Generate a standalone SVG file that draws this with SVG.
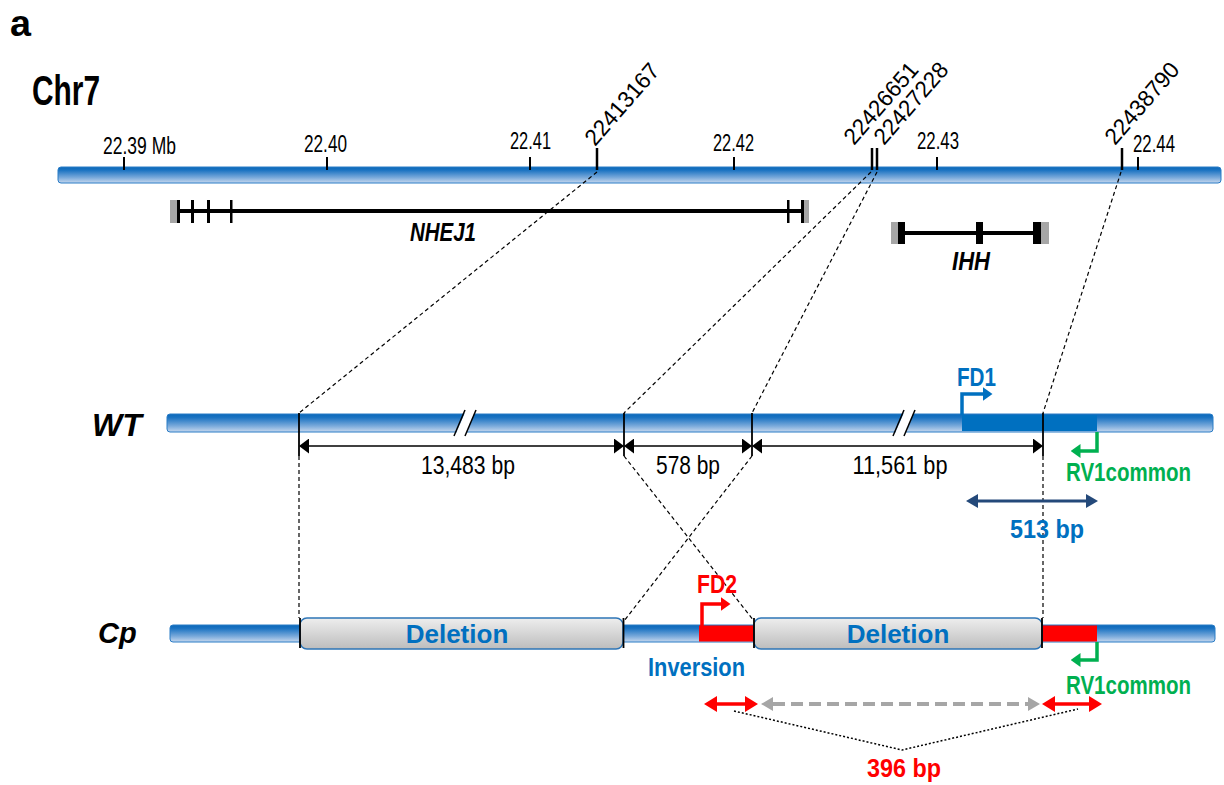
<svg xmlns="http://www.w3.org/2000/svg" width="1224" height="785" viewBox="0 0 1224 785">
<defs>
<linearGradient id="barG" x1="0" y1="0" x2="0" y2="1">
<stop offset="0" stop-color="#0a68ba"/>
<stop offset="0.2" stop-color="#1b73c2"/>
<stop offset="0.65" stop-color="#77a8da"/>
<stop offset="1" stop-color="#c6d8ee"/>
</linearGradient>
<linearGradient id="delG" x1="0" y1="0" x2="0" y2="1">
<stop offset="0" stop-color="#eeeeee"/>
<stop offset="1" stop-color="#bdbdbd"/>
</linearGradient>
<marker id="mk" viewBox="0 0 10 15" refX="0" refY="7.5" markerWidth="10" markerHeight="15" markerUnits="userSpaceOnUse" orient="auto-start-reverse"><path d="M0,0 L10,7.5 L0,15 z" fill="#000"/></marker>
<marker id="mn" viewBox="0 0 12 14" refX="0" refY="7" markerWidth="12" markerHeight="14" markerUnits="userSpaceOnUse" orient="auto-start-reverse"><path d="M0,0 L12,7 L0,14 z" fill="#24497a"/></marker>
<marker id="mr" viewBox="0 0 13 16" refX="0" refY="8" markerWidth="13" markerHeight="16" markerUnits="userSpaceOnUse" orient="auto-start-reverse"><path d="M0,0 L13,8 L0,16 z" fill="#ff0000"/></marker>
<marker id="mg" viewBox="0 0 12 14" refX="0" refY="7" markerWidth="12" markerHeight="14" markerUnits="userSpaceOnUse" orient="auto-start-reverse"><path d="M0,0 L12,7 L0,14 z" fill="#a6a6a6"/></marker>
<marker id="mb" viewBox="0 0 10 14" refX="0.5" refY="7" markerWidth="10" markerHeight="14" markerUnits="userSpaceOnUse" orient="auto"><path d="M0,0 L10,7 L0,14 z" fill="#0070c0"/></marker>
<marker id="mgr" viewBox="0 0 10 14" refX="0.5" refY="7" markerWidth="10" markerHeight="14" markerUnits="userSpaceOnUse" orient="auto"><path d="M0,0 L10,7 L0,14 z" fill="#00b050"/></marker>
<marker id="mrd" viewBox="0 0 10 14" refX="0.5" refY="7" markerWidth="10" markerHeight="14" markerUnits="userSpaceOnUse" orient="auto"><path d="M0,0 L10,7 L0,14 z" fill="#ff0000"/></marker>
</defs>
<style>
text{font-family:"Liberation Sans",Arial,sans-serif;}
.n{font-size:23px;fill:#000;}
.d{font-size:26px;fill:#000;}
.bi{font-weight:bold;font-style:italic;fill:#000;}
.bl{font-weight:bold;font-size:26px;fill:#0070c0;}
.gr{font-weight:bold;font-size:26px;fill:#00b050;}
.rd{font-weight:bold;font-size:26px;fill:#ff0000;}
.del{font-weight:bold;font-size:26px;fill:#0070c0;text-anchor:middle;}
.bar{fill:url(#barG);stroke:#2a7cc6;stroke-width:1;}
.dbox{fill:url(#delG);stroke:#2e75b6;stroke-width:1.5;}
.tk{stroke:#000;stroke-width:2;}
.tk2{stroke:#000;stroke-width:2.5;}
.dash{fill:none;stroke:#000;stroke-width:1.2;stroke-dasharray:4 3;}
.vl{stroke:#000;stroke-width:1.8;}
.dim{stroke:#000;stroke-width:1.5;marker-start:url(#mk);marker-end:url(#mk);}
.ex{fill:#000;}
.gx{fill:#a6a6a6;}
</style>

<text x="10" y="36" font-weight="bold" font-size="37" textLength="21" lengthAdjust="spacingAndGlyphs">a</text>

<g id="chr7">
<text x="32" y="105" font-weight="bold" font-size="43" textLength="68" lengthAdjust="spacingAndGlyphs">Chr7</text>
<rect class="bar" x="58" y="167" width="1163" height="16" rx="3"/>
<line class="tk" x1="124" y1="157" x2="124" y2="170"/>
<line class="tk" x1="327" y1="157" x2="327" y2="170"/>
<line class="tk" x1="530" y1="157" x2="530" y2="170"/>
<line class="tk" x1="734" y1="157" x2="734" y2="170"/>
<line class="tk" x1="937" y1="157" x2="937" y2="170"/>
<line class="tk" x1="1138" y1="157" x2="1138" y2="170"/>
<line class="tk2" x1="597" y1="148" x2="597" y2="170"/>
<line class="tk2" x1="872" y1="148" x2="872" y2="170"/>
<line class="tk2" x1="877" y1="148" x2="877" y2="170"/>
<line class="tk2" x1="1122" y1="148" x2="1122" y2="170"/>
<text class="n" x="103" y="154" textLength="73" lengthAdjust="spacingAndGlyphs">22.39 Mb</text>
<text class="n" x="304" y="152" textLength="43" lengthAdjust="spacingAndGlyphs">22.40</text>
<text class="n" x="510" y="149" textLength="41" lengthAdjust="spacingAndGlyphs">22.41</text>
<text class="n" x="713" y="151" textLength="41" lengthAdjust="spacingAndGlyphs">22.42</text>
<text class="n" x="917" y="149" textLength="42" lengthAdjust="spacingAndGlyphs">22.43</text>
<text class="n" x="1133" y="152" textLength="42" lengthAdjust="spacingAndGlyphs">22.44</text>
<text class="n" transform="translate(595,147) rotate(-49)" textLength="100" lengthAdjust="spacingAndGlyphs">22413167</text>
<text class="n" transform="translate(854,146) rotate(-49)" textLength="100" lengthAdjust="spacingAndGlyphs">22426651</text>
<text class="n" transform="translate(884,146) rotate(-49)" textLength="100" lengthAdjust="spacingAndGlyphs">22427228</text>
<text class="n" transform="translate(1115,146) rotate(-49)" textLength="100" lengthAdjust="spacingAndGlyphs">22438790</text>
</g>

<g id="nhej1">
<rect class="gx" x="170" y="200" width="7" height="23"/>
<rect class="gx" x="803" y="200" width="6" height="23"/>
<rect class="ex" x="177" y="209" width="627" height="4"/>
<rect class="ex" x="177" y="200" width="3" height="23"/>
<rect class="ex" x="191" y="200" width="3" height="23"/>
<rect class="ex" x="207" y="200" width="3" height="23"/>
<rect class="ex" x="230" y="200" width="2.5" height="23"/>
<rect class="ex" x="787" y="200" width="2.5" height="23"/>
<rect class="ex" x="801" y="200" width="3" height="23"/>
<text class="bi" x="443" y="241" font-size="25" text-anchor="middle" textLength="66" lengthAdjust="spacingAndGlyphs">NHEJ1</text>
</g>

<g id="ihh">
<rect class="gx" x="891" y="222" width="7" height="22"/>
<rect class="gx" x="1041" y="222" width="8" height="22"/>
<rect class="ex" x="898" y="231" width="143" height="4"/>
<rect class="ex" x="898" y="222" width="7" height="22"/>
<rect class="ex" x="976" y="222" width="7" height="22"/>
<rect class="ex" x="1033" y="222" width="8" height="22"/>
<text class="bi" x="971" y="270" font-size="26" text-anchor="middle" textLength="38" lengthAdjust="spacingAndGlyphs">IHH</text>
</g>

<g id="wt">
<text class="bi" x="92" y="436" font-size="32">WT</text>
<rect class="bar" x="167" y="414" width="1046" height="18" rx="3"/>
<rect x="962" y="415" width="135" height="16" fill="#0070c0"/>
<polygon points="455,436 466,410 476,410 465,436" fill="#ffffff"/>
<line x1="454" y1="436" x2="465" y2="410" stroke="#000" stroke-width="1.5"/>
<line x1="465" y1="436" x2="476" y2="410" stroke="#000" stroke-width="1.5"/>
<polygon points="894,436 905,410 915,410 904,436" fill="#ffffff"/>
<line x1="893" y1="436" x2="904" y2="410" stroke="#000" stroke-width="1.5"/>
<line x1="904" y1="436" x2="915" y2="410" stroke="#000" stroke-width="1.5"/>
<line class="vl" x1="299" y1="413" x2="299" y2="456"/>
<line class="vl" x1="624" y1="413" x2="624" y2="456"/>
<line class="vl" x1="752" y1="413" x2="752" y2="456"/>
<line class="vl" x1="1043" y1="413" x2="1043" y2="456"/>
</g>

<g id="cp">
<text class="bi" x="98" y="643" font-size="29">Cp</text>
<rect class="bar" x="170" y="625" width="1045" height="17" rx="3"/>
<rect x="699" y="625.5" width="55" height="16" fill="#ff0000"/>
<rect x="1042" y="625.5" width="55" height="16" fill="#ff0000"/>
<g id="deletion1">
<rect class="dbox" x="300" y="618" width="323" height="31" rx="7"/>
<text class="del" x="457" y="643">Deletion</text>
</g>
<g id="deletion2">
<rect class="dbox" x="754" y="618" width="288" height="31" rx="7"/>
<text class="del" x="898" y="643">Deletion</text>
</g>
<line class="vl" x1="300" y1="618" x2="300" y2="648"/>
<line class="vl" x1="623.5" y1="618" x2="623.5" y2="648"/>
<line class="vl" x1="754" y1="618" x2="754" y2="648"/>
<line class="vl" x1="1042" y1="618" x2="1042" y2="648"/>
</g>

<g id="connectors">
<path class="dash" d="M597,172 L299,413"/>
<path class="dash" d="M871,172 L624,413"/>
<path class="dash" d="M877,172 L752,413"/>
<path class="dash" d="M1121,172 L1043,413"/>
<path class="dash" d="M299,456 L299,618"/>
<path class="dash" d="M624,456 L754,621"/>
<path class="dash" d="M752,456 L624,621"/>
<path class="dash" d="M1043,456 L1043,618"/>
<line class="dim" x1="309" y1="446" x2="614" y2="446"/>
<line class="dim" x1="634" y1="446" x2="742" y2="446"/>
<line class="dim" x1="762" y1="446" x2="1033" y2="446"/>
<path d="M962,415 V394 H983" fill="none" stroke="#0070c0" stroke-width="3.5" marker-end="url(#mb)"/>
<path d="M1097,432 V451 H1080" fill="none" stroke="#00b050" stroke-width="3.5" marker-end="url(#mgr)"/>
<path d="M702,626 V604 H721" fill="none" stroke="#ff0000" stroke-width="3.5" marker-end="url(#mrd)"/>
<path d="M1097,642 V660 H1080" fill="none" stroke="#00b050" stroke-width="3.5" marker-end="url(#mgr)"/>
<line x1="978" y1="501" x2="1086" y2="501" stroke="#24497a" stroke-width="3" marker-start="url(#mn)" marker-end="url(#mn)"/>
<line x1="717" y1="704" x2="745" y2="704" stroke="#ff0000" stroke-width="3.5" marker-start="url(#mr)" marker-end="url(#mr)"/>
<line x1="1055" y1="704" x2="1089" y2="704" stroke="#ff0000" stroke-width="3.5" marker-start="url(#mr)" marker-end="url(#mr)"/>
<line x1="773" y1="704" x2="1028" y2="704" stroke="#a6a6a6" stroke-width="4" stroke-dasharray="12 6" marker-start="url(#mg)" marker-end="url(#mg)"/>
<path d="M734,711 L902,750 L1078,709" fill="none" stroke="#000" stroke-width="1.5" stroke-dasharray="2 2"/>
</g>

<g id="labels">
<text class="d" x="468" y="474" text-anchor="middle" textLength="94" lengthAdjust="spacingAndGlyphs">13,483 bp</text>
<text class="d" x="688" y="474" text-anchor="middle" textLength="64" lengthAdjust="spacingAndGlyphs">578 bp</text>
<text class="d" x="900" y="474" text-anchor="middle" textLength="95" lengthAdjust="spacingAndGlyphs">11,561 bp</text>
<text class="bl" x="957" y="386" textLength="39" lengthAdjust="spacingAndGlyphs">FD1</text>
<text class="gr" x="1066" y="481" textLength="125" lengthAdjust="spacingAndGlyphs">RV1common</text>
<text class="bl" x="1047" y="538" text-anchor="middle" textLength="74" lengthAdjust="spacingAndGlyphs">513 bp</text>
<text class="rd" x="697" y="593" textLength="40" lengthAdjust="spacingAndGlyphs">FD2</text>
<text class="bl" x="648" y="676" textLength="97" lengthAdjust="spacingAndGlyphs">Inversion</text>
<text class="gr" x="1066" y="694" textLength="125" lengthAdjust="spacingAndGlyphs">RV1common</text>
<text class="rd" x="904" y="777" text-anchor="middle" textLength="74" lengthAdjust="spacingAndGlyphs">396 bp</text>
</g>
</svg>
